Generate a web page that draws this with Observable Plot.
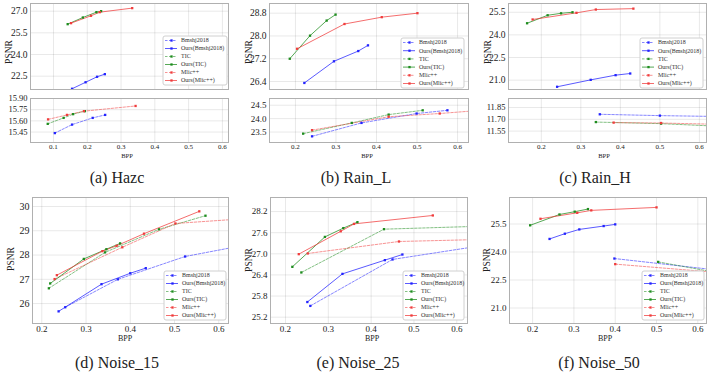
<!DOCTYPE html>
<html><head><meta charset="utf-8">
<script src="https://cdn.jsdelivr.net/npm/d3@7"></script>
<script src="https://cdn.jsdelivr.net/npm/@observablehq/plot@0.6"></script>
<style>
body{margin:0;background:#fff;}
#fig{position:relative;width:720px;height:374px;overflow:hidden;font-family:"Liberation Serif","DejaVu Serif",serif;background:#fff;}
#fig svg{position:absolute;font-family:"Liberation Serif","DejaVu Serif",serif !important;}
#fig svg text{font-family:"Liberation Serif","DejaVu Serif",serif;}
.lbl{position:absolute;white-space:nowrap;line-height:1;color:#222;}
</style></head><body><div id="fig"></div>
<script>
// ---------- series ----------
const SERIES = ["Bmshj2018","Ours(Bmshj2018)","TIC","Ours(TIC)","Mlic++","Ours(Mlic++)"];
const COLORS = ["#2323ff","#2323ff","#1e8c1e","#1e8c1e","#f03c3c","#f03c3c"];
const X_TICKS_A = [0.1,0.2,0.3,0.4,0.5,0.6];
const X_TICKS = [0.2,0.3,0.4,0.5,0.6];

// ---------- data: [bpp, psnr] ----------
// (a) Hazc  (upper = ours, lower = baselines)
const hazcUpper = {
  "Ours(Bmshj2018)": [[0.155,21.63],[0.195,22.08],[0.229,22.46],[0.252,22.64]],
  "Ours(TIC)":       [[0.142,26.10],[0.187,26.56],[0.227,26.93],[0.241,27.00]],
  "Ours(Mlic++)":    [[0.152,26.17],[0.211,26.68],[0.237,26.93],[0.333,27.21]]
};
const hazcLower = {
  "Bmshj2018": [[0.104,15.436],[0.155,15.55],[0.216,15.64],[0.253,15.68]],
  "TIC":       [[0.083,15.56],[0.130,15.64],[0.158,15.69],[0.193,15.73]],
  "Mlic++":    [[0.084,15.62],[0.140,15.68],[0.190,15.73],[0.343,15.80]]
};
// (b) Rain_L
const rainLUpper = {
  "Ours(Bmshj2018)": [[0.222,26.35],[0.295,27.11],[0.355,27.47],[0.379,27.67]],
  "Ours(TIC)":       [[0.186,27.20],[0.236,28.01],[0.277,28.54],[0.299,28.75]],
  "Ours(Mlic++)":    [[0.204,27.55],[0.321,28.42],[0.413,28.66],[0.501,28.80]]
};
const rainLLower = {
  "Bmshj2018": [[0.241,23.34],[0.363,23.84],[0.499,24.19],[0.575,24.31]],
  "TIC":       [[0.219,23.44],[0.339,23.84],[0.430,24.15],[0.514,24.31]],
  "Mlic++":    [[0.241,23.57],[0.430,24.07],[0.556,24.19],[0.700,24.36]]
};
// (c) Rain_H
const rainHUpper = {
  "Ours(Bmshj2018)": [[0.240,20.56],[0.325,21.02],[0.388,21.33],[0.425,21.44]],
  "Ours(TIC)":       [[0.164,24.77],[0.216,25.30],[0.250,25.43],[0.279,25.50]],
  "Ours(Mlic++)":    [[0.178,25.02],[0.289,25.46],[0.338,25.68],[0.433,25.74]]
};
const rainHLower = {
  "Bmshj2018": [[0.348,11.764],[0.500,11.747],[0.700,11.732]],
  "TIC":       [[0.338,11.665],[0.503,11.645],[0.700,11.60]],
  "Mlic++":    [[0.383,11.658],[0.503,11.653],[0.700,11.63]]
};
// (d) Noise_15
const noise15 = {
  "Bmshj2018":       [[0.253,25.85],[0.372,27.00],[0.524,27.94],[0.700,28.55]],
  "Ours(Bmshj2018)": [[0.238,25.68],[0.335,26.80],[0.400,27.25],[0.435,27.46]],
  "TIC":             [[0.216,26.63],[0.343,28.11],[0.465,29.06],[0.570,29.62]],
  "Ours(TIC)":       [[0.219,26.83],[0.295,27.84],[0.346,28.24],[0.377,28.48]],
  "Mlic++":          [[0.229,27.01],[0.382,28.32],[0.502,29.30],[0.700,29.55]],
  "Ours(Mlic++)":    [[0.234,27.17],[0.337,28.16],[0.369,28.38],[0.431,28.88],[0.556,29.80]]
};
// (e) Noise_25
const noise25 = {
  "Bmshj2018":       [[0.258,25.52],[0.450,26.84],[0.700,27.31]],
  "Ours(Bmshj2018)": [[0.251,25.63],[0.333,26.43],[0.432,26.82],[0.473,26.98]],
  "TIC":             [[0.237,26.47],[0.430,27.70],[0.700,27.80]],
  "Ours(TIC)":       [[0.216,26.63],[0.292,27.48],[0.335,27.73],[0.368,27.90]],
  "Mlic++":          [[0.252,27.01],[0.465,27.35],[0.700,27.42]],
  "Ours(Mlic++)":    [[0.231,26.99],[0.329,27.64],[0.360,27.85],[0.544,28.09]]
};
// (f) Noise_50
const noise50 = {
  "Bmshj2018":       [[0.398,23.65],[0.700,22.90]],
  "Ours(Bmshj2018)": [[0.241,24.70],[0.278,24.98],[0.313,25.21],[0.372,25.39],[0.400,25.48]],
  "TIC":             [[0.504,23.47],[0.700,22.68]],
  "Ours(TIC)":       [[0.194,25.43],[0.265,26.01],[0.302,26.16],[0.334,26.30]],
  "Mlic++":          [[0.400,23.35],[0.700,22.81]],
  "Ours(Mlic++)":    [[0.219,25.78],[0.308,26.10],[0.342,26.23],[0.500,26.39]]
};

// ---------- helpers ----------
const fig = document.getElementById("fig");
const FONT = "'Liberation Serif','DejaVu Serif',serif";
const STYLE = "font-family:'Liberation Serif','DejaVu Serif',serif;background:transparent;overflow:visible;";
function rows(obj){
  return Object.entries(obj).flatMap(([s, pts]) => pts.map(([bpp, psnr]) => ({series: s, bpp, psnr})));
}
function place(svg, left, top){
  svg.style.left = left + "px"; svg.style.top = top + "px";
  fig.appendChild(svg);
}
function panel(cfg){
  const {L, R, T, B, xd, yd, xt, yt, yf, showX, data, yfs, xfs, xpad} = cfg;
  const ml = 40, mr = 1, mt = 1, mb = showX ? 16 : 1;
  const d = rows(data);
  const ours = d.filter(r => r.series.startsWith("Ours"));
  const base = d.filter(r => !r.series.startsWith("Ours"));
  const marks = [
    Plot.gridX(xt, {stroke: "#000", strokeOpacity: 0.09}),
    Plot.gridY(yt, {stroke: "#000", strokeOpacity: 0.09}),
    Plot.axisY(yt, {tickSize: 0, tickPadding: 3, tickFormat: d3.format(yf), fontSize: yfs, fontFamily: FONT, label: null, fill: "#222"}),
    showX ? Plot.axisX(xt, {tickSize: 0, tickPadding: xpad ?? 2, tickFormat: d3.format(".1f"), fontSize: xfs, fontFamily: FONT, label: null, fill: "#222"}) : null,
    Plot.line(base, {x: "bpp", y: "psnr", z: "series", stroke: "series", strokeWidth: 1, strokeOpacity: 0.55, strokeDasharray: "2.5,1.5", clip: true}),
    Plot.line(ours, {x: "bpp", y: "psnr", z: "series", stroke: "series", strokeWidth: 1, strokeOpacity: 0.75, clip: true}),
    Plot.dot(d, {x: "bpp", y: "psnr", fill: "series", symbol: "square", r: 1.3, clip: true}),
    Plot.frame({stroke: "#b0b0b0"})
  ];
  const svg = Plot.plot({
    width: R - L + ml + mr, height: B - T + mt + mb,
    marginLeft: ml, marginRight: mr, marginTop: mt, marginBottom: mb,
    style: STYLE,
    x: showX ? {domain: xd} : {domain: xd, axis: null},
    y: {domain: yd},
    color: {domain: SERIES, range: COLORS},
    marks
  });
  place(svg, L - ml, T - mt);
}
function legend(L, T, W, H){
  const top = 5, step = (H - 10) / 5;
  const r = SERIES.map((s, i) => ({s, y: top + i * step}));
  const svg = Plot.plot({
    width: W, height: H, margin: 0,
    x: {domain: [0, W], range: [0, W], axis: null},
    y: {domain: [0, H], range: [0, H], axis: null},
    color: {domain: SERIES, range: COLORS},
    style: STYLE,
    marks: [
      Plot.frame({stroke: "#d0d0d0", fill: "white", rx: 2, inset: 0.5}),
      Plot.ruleY(r.filter(d => !d.s.startsWith("Ours")), {y: "y", x1: 3, x2: 15, stroke: "s", strokeOpacity: 0.55, strokeDasharray: "2.5,1.5"}),
      Plot.ruleY(r.filter(d => d.s.startsWith("Ours")), {y: "y", x1: 3, x2: 15, stroke: "s", strokeOpacity: 0.75}),
      Plot.dot(r, {x: 9, y: "y", fill: "s", symbol: "square", r: 1.3}),
      Plot.text(r, {x: 18.5, y: "y", text: "s", textAnchor: "start", fontSize: 6, fontFamily: FONT, fill: "#333"})
    ]
  });
  place(svg, L, T);
}
function label(text, x, y, size, rot){
  const d = document.createElement("div");
  d.className = "lbl";
  d.textContent = text;
  d.style.left = x + "px"; d.style.top = y + "px"; d.style.fontSize = size + "px";
  d.style.transform = "translate(-50%,-50%)" + (rot ? " rotate(-90deg)" : "");
  fig.appendChild(d);
}

// ---------- top row ----------
panel({L: 30, R: 228, T: 3, B: 89, xd: [0.032, 0.618], yd: [21.58, 27.53], xt: X_TICKS_A, yt: [22.5, 24.0, 25.5, 27.0], yf: ".1f", showX: false, data: hazcUpper, yfs: 9.5});
panel({L: 30, R: 228, T: 98, B: 142, xd: [0.032, 0.618], yd: [15.31, 15.90], xt: X_TICKS_A, yt: [15.45, 15.60, 15.75, 15.90], yf: ".2f", showX: true, data: hazcLower, yfs: 8.5, xfs: 7, xpad: 1.5});
panel({L: 269, R: 468, T: 3, B: 89, xd: [0.136, 0.627], yd: [26.12, 29.14], xt: X_TICKS, yt: [26.4, 27.2, 28.0, 28.8], yf: ".1f", showX: false, data: rainLUpper, yfs: 9.5});
panel({L: 269, R: 468, T: 98, B: 142, xd: [0.136, 0.627], yd: [23.11, 24.75], xt: X_TICKS, yt: [23.5, 24.0, 24.5], yf: ".1f", showX: true, data: rainLLower, yfs: 9, xfs: 7, xpad: 1.5});
panel({L: 508, R: 706, T: 3, B: 89, xd: [0.117, 0.618], yd: [20.38, 26.08], xt: X_TICKS, yt: [21.0, 22.5, 24.0, 25.5], yf: ".1f", showX: false, data: rainHUpper, yfs: 9.5});
panel({L: 508, R: 706, T: 98, B: 142, xd: [0.117, 0.618], yd: [11.405, 11.965], xt: X_TICKS, yt: [11.55, 11.70, 11.85], yf: ".2f", showX: true, data: rainHLower, yfs: 8.5, xfs: 7, xpad: 1.5});
// ---------- bottom row ----------
panel({L: 32, R: 228, T: 197, B: 323, xd: [0.179, 0.622], yd: [25.18, 30.37], xt: X_TICKS, yt: [26, 27, 28, 29, 30], yf: "d", showX: true, data: noise15, yfs: 10, xfs: 9});
panel({L: 270, R: 467, T: 197, B: 323, xd: [0.165, 0.625], yd: [25.02, 28.6], xt: X_TICKS, yt: [25.2, 25.8, 26.4, 27.0, 27.6, 28.2], yf: ".1f", showX: true, data: noise25, yfs: 9, xfs: 9});
panel({L: 509, R: 706, T: 197, B: 323, xd: [0.144, 0.621], yd: [20.17, 26.92], xt: X_TICKS, yt: [21.0, 22.5, 24.0, 25.5], yf: ".1f", showX: true, data: noise50, yfs: 9, xfs: 9});

// ---------- legends ----------
legend(162, 35, 65, 50);
legend(400, 37, 64, 51);
legend(639, 37, 64, 51);
legend(163, 270, 63, 50);
legend(402, 270, 62, 50);
legend(641, 270, 63, 50);

// ---------- axis titles & captions ----------
label("PSNR", 10, 52, 9.5, true);
label("PSNR", 250, 52, 9.5, true);
label("PSNR", 489, 52, 9.5, true);
label("PSNR", 12, 259, 9.5, true);
label("PSNR", 250, 260, 9.5, true);
label("PSNR", 488, 260, 9.5, true);
label("BPP", 127, 156, 6.5);
label("BPP", 367, 156, 6.5);
label("BPP", 604, 156, 6.5);
label("BPP", 125, 339, 8);
label("BPP", 372, 339, 8);
label("BPP", 605, 339, 8);
label("(a) Hazc", 117, 178, 16);
label("(b) Rain_L", 356, 178, 16);
label("(c) Rain_H", 595, 178, 16);
label("(d) Noise_15", 117, 363, 16);
label("(e) Noise_25", 358, 363, 16);
label("(f) Noise_50", 599, 363, 16);
</script></body></html>
